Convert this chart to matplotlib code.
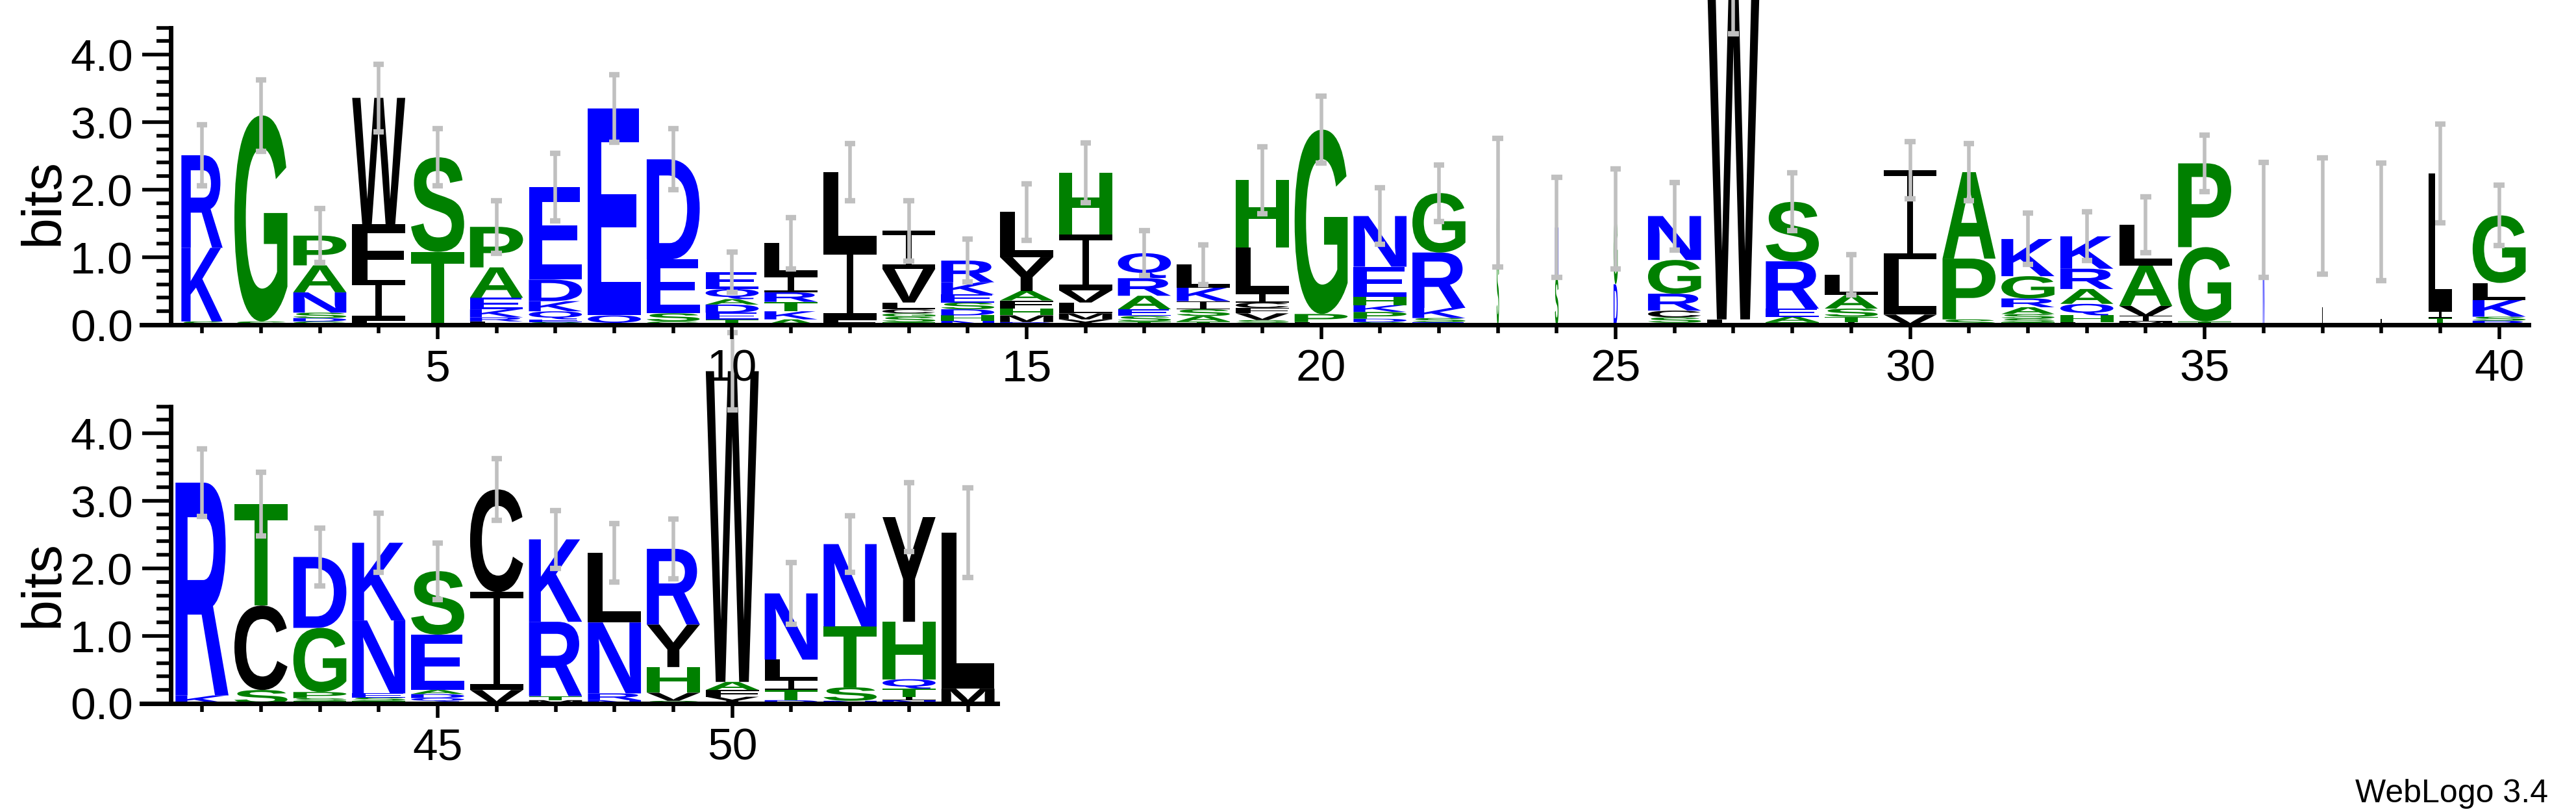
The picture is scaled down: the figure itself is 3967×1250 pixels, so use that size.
import matplotlib
matplotlib.use("Agg")
import matplotlib.pyplot as plt
from matplotlib.textpath import TextPath
from matplotlib.font_manager import FontProperties
from matplotlib.patches import PathPatch, Rectangle
from matplotlib.path import Path
from matplotlib.ticker import MultipleLocator

# ---- data: stacks from bottom to top (letters, heights in bits), error half-width ----
stack_letters = ["SKR", "SG", "GDSNAP", "LIFW", "TS", "LRKEAP", "SEQKDE", "QE", "GSED", "TEDAQE",
                 "AKTRIL", "FIL", "TSGCLVI", "NHDSEKR", "DMHFAYL", "YMLVIH", "TSEARQ", "TASIKL",
                 "LSVFCILH", "LPG", "SDPKHEN", "ESKRG", "SG", "SN", "DG", "ASCRGN", "LW", "TAERS",
                 "ITSAL", "VLI", "SPA", "TSSARGK", "LHQARK", "MIVAL", "TGP", "N", "L", "I", "TIL",
                 "RSKLG",
                 "KR", "SCT", "TSPGD", "TSENK", "SQDAES", "VIC", "MTRK", "NRNL", "SVHYR", "YFAW",
                 "DTILN", "NSTN", "NITQHY", "ML"]
stack_heights = [[0.05, 1.09, 1.37], [0.05, 3.05], [0.05, 0.05, 0.08, 0.3, 0.4, 0.44],
                 [0.06, 0.6, 0.83, 1.87], [1.08, 1.4], [0.05, 0.06, 0.12, 0.17, 0.45, 0.6],
                 [0.04, 0.04, 0.12, 0.15, 0.32, 1.37], [0.14, 3.06], [0.05, 0.12, 0.8, 1.48],
                 [0.08, 0.1, 0.12, 0.08, 0.15, 0.25], [0.08, 0.12, 0.14, 0.14, 0.25, 0.48],
                 [0.08, 1.05, 1.13], [0.04, 0.08, 0.05, 0.06, 0.1, 0.5, 0.56],
                 [0.06, 0.08, 0.09, 0.1, 0.12, 0.18, 0.32], [0.04, 0.1, 0.1, 0.12, 0.14, 0.5, 0.67],
                 [0.08, 0.09, 0.16, 0.18, 0.83, 0.91], [0.05, 0.08, 0.1, 0.2, 0.26, 0.37],
                 [0.05, 0.08, 0.1, 0.12, 0.2, 0.34], [0.03, 0.04, 0.1, 0.08, 0.08, 0.14, 0.67, 1.0],
                 [0.04, 0.12, 2.73], [0.04, 0.05, 0.1, 0.1, 0.12, 0.45, 0.75],
                 [0.04, 0.06, 0.15, 0.82, 0.88], [1.0, 0.81], [0.7, 0.74], [0.6, 0.97],
                 [0.03, 0.08, 0.1, 0.25, 0.5, 0.65], [0.08, 5.1], [0.04, 0.08, 0.12, 0.7, 0.88],
                 [0.04, 0.08, 0.12, 0.2, 0.3], [0.15, 0.82, 1.32], [0.08, 0.9, 1.28],
                 [0.04, 0.05, 0.07, 0.1, 0.13, 0.33, 0.55], [0.04, 0.1, 0.17, 0.22, 0.3, 0.48],
                 [0.05, 0.08, 0.15, 0.6, 0.6], [0.05, 1.1, 1.24], [1.55], [1.61], [1.52],
                 [0.1, 0.1, 2.04], [0.06, 0.06, 0.25, 0.25, 1.0],
                 [0.12, 3.15], [0.2, 1.25, 1.5], [0.04, 0.04, 0.09, 0.95, 1.05],
                 [0.04, 0.05, 0.06, 1.08, 1.15], [0.03, 0.05, 0.06, 0.06, 0.82, 0.94],
                 [0.2, 1.45, 1.52], [0.05, 0.06, 1.1, 1.22], [0.05, 0.1, 1.05, 1.03],
                 [0.04, 0.12, 0.38, 0.63, 1.12], [0.1, 0.1, 0.12, 4.6], [0.05, 0.15, 0.15, 0.3, 0.98],
                 [0.04, 0.2, 0.9, 1.22], [0.05, 0.05, 0.12, 0.14, 0.85, 1.55], [0.22, 2.31]]
error_half = [0.45, 0.53, 0.4, 0.5, 0.42, 0.39, 0.5, 0.5, 0.45, 0.3, 0.38, 0.42, 0.45, 0.32, 0.42,
              0.44, 0.33, 0.29, 0.5, 0.5, 0.42, 0.42, 0.95, 0.74, 0.74, 0.5, 0.87, 0.43, 0.3, 0.42,
              0.42, 0.38, 0.36, 0.41, 0.42, 0.85, 0.86, 0.87, 0.73, 0.45,
              0.5, 0.47, 0.43, 0.44, 0.42, 0.46, 0.43, 0.43, 0.44, 0.57, 0.46, 0.42, 0.51, 0.66]
column_width = [0.7] + [0.9] * 21 + [0.04, 0.06, 0.07] + [0.9] * 10 + [0.025, 0.02, 0.02, 0.4, 0.9] + [0.9] * 14
positions = list(range(1, 55))

letter_colors = {}
for c in "GSTAPH":
    letter_colors[c] = "#008000"
for c in "WFILVYCM":
    letter_colors[c] = "black"
for c in "RKDENQ":
    letter_colors[c] = "#0000ff"

fp_sans = FontProperties(family="Liberation Sans", weight="bold")


def draw_letter(ax, ch, x, y0, h, w):
    col = letter_colors[ch]
    if ch == "I":
        bar = min(0.09, 0.12 * h)
        stem = 0.12 * w
        for r in (Rectangle((x - w / 2, y0), w, bar),
                  Rectangle((x - w / 2, y0 + h - bar), w, bar),
                  Rectangle((x - stem / 2, y0), stem, h)):
            r.set_facecolor(col)
            r.set_edgecolor("none")
            r.set_clip_on(False)
            r.set_zorder(2)
            ax.add_patch(r)
        return
    tp = TextPath((0, 0), ch, size=1, prop=fp_sans)
    bb = tp.get_extents()
    v = tp.vertices.copy()
    v[:, 0] = (v[:, 0] - bb.x0) / bb.width * w + x - w / 2
    v[:, 1] = (v[:, 1] - bb.y0) / bb.height * h + y0
    ax.add_patch(PathPatch(Path(v, tp.codes), fc=col, ec="none", clip_on=False, zorder=2))


fig = plt.figure(figsize=(39.67, 12.5), dpi=100)
ax1 = fig.add_axes([0.0663, 0.6, 0.9153, 0.366])
ax2 = fig.add_axes([0.0663, 0.1336, 0.3209, 0.366])

for ax, lo, hi, xl in [(ax1, 1, 40, (0.47, 40.5)), (ax2, 41, 54, (40.47, 54.5))]:
    for p in range(lo, hi + 1):
        i = p - 1
        y = 0.0
        for ch, h in zip(stack_letters[i], stack_heights[i]):
            draw_letter(ax, ch, p, y, h, column_width[i])
            y += h
        e = error_half[i]
        ax.plot([p, p], [y - e, y + e], color="#c0c0c0", lw=4, zorder=3, clip_on=False)
        for yy in (y - e, y + e):
            ax.plot([p - 0.09, p + 0.09], [yy, yy], color="#c0c0c0", lw=6, zorder=3,
                    clip_on=False, solid_capstyle="butt")
    ax.set_xlim(*xl)
    ax.set_ylim(0, 4.4)
    for s in ("top", "right"):
        ax.spines[s].set_visible(False)
    for s in ("left", "bottom"):
        ax.spines[s].set_linewidth(5)
    ax.spines["bottom"].set_bounds(xl[0] - 0.5, xl[1])
    ax.yaxis.set_minor_locator(MultipleLocator(0.2))
    ax.xaxis.set_major_locator(MultipleLocator(5))
    ax.xaxis.set_minor_locator(MultipleLocator(1))
    ax.set_yticks([0, 1, 2, 3, 4])
    ax.set_yticklabels(["0.0", "1.0", "2.0", "3.0", "4.0"])
    ax.tick_params(axis="y", which="major", length=32, width=4, labelsize=50, pad=10)
    ax.tick_params(axis="y", which="minor", length=16, width=4)
    ax.tick_params(axis="x", which="major", length=16, width=4, labelsize=50, pad=10)
    ax.tick_params(axis="x", which="minor", length=9, width=4)
    for t in ax.get_xticklabels() + ax.get_yticklabels():
        t.set_fontfamily("Liberation Sans")
    ax.patch.set_alpha(0)

ax1.set_zorder(1)
fig.text(68 / 3967, 1 - 311 / 1250, "bits", rotation=90, ha="center", va="center",
         fontsize=62, family="Liberation Sans")
fig.text(68 / 3967, 1 - 899 / 1250, "bits", rotation=90, ha="center", va="center",
         fontsize=62, family="Liberation Sans")
fig.text(3924 / 3967, 1 - 1222 / 1250, "WebLogo 3.4", ha="right", va="center",
         fontsize=36, family="Liberation Sans")

fig.savefig("out.png", dpi=100)
